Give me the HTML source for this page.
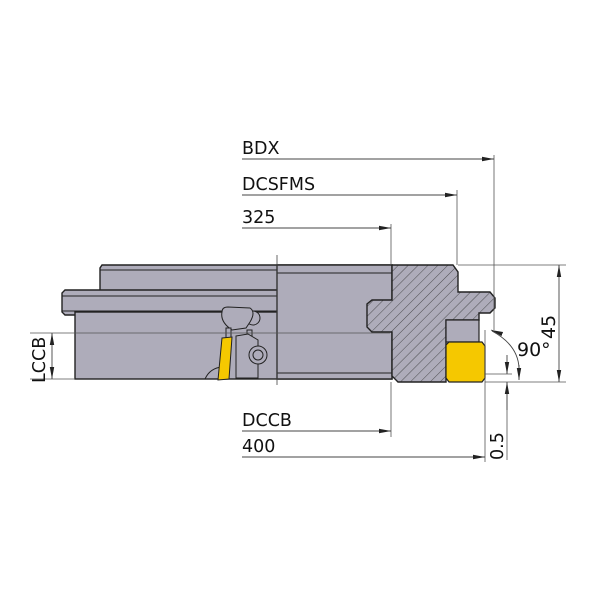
<!DOCTYPE html>
<html><head><style>body{margin:0;background:#fff}svg{display:block}</style></head><body>
<svg width="600" height="600" viewBox="0 0 600 600" xmlns="http://www.w3.org/2000/svg" font-family="'DejaVu Sans','Liberation Sans',sans-serif">
<defs>
<pattern id="h" patternUnits="userSpaceOnUse" width="7" height="7" patternTransform="rotate(45)">
<rect width="7" height="7" fill="#aeacba"/><line x1="0" y1="0" x2="0" y2="7" stroke="#333" stroke-width="0.8"/>
</pattern>
<marker id="a" markerWidth="12" markerHeight="6" refX="12" refY="3" orient="auto" markerUnits="userSpaceOnUse"><path d="M0,0.8 L12,3 L0,5.2 Z" fill="#222"/></marker>
</defs>
<g stroke="#222" stroke-width="1.4" fill="#aeacba">
<path d="M102,265 L392,265 L392,292 L100,292 L100,268 Z"/>
<path d="M65,290 L392,290 L392,315 L65,315 L62,312 L62,293 Z"/>
<rect x="75" y="312" width="317" height="67"/>
<rect x="277" y="265" width="115" height="114"/>
</g>
<g stroke="#222" stroke-width="1" fill="none">
<line x1="100" y1="270" x2="277" y2="270"/>
<line x1="62" y1="296" x2="277" y2="296"/>
<line x1="62" y1="311" x2="277" y2="311"/>
<line x1="277" y1="273" x2="392" y2="273"/>
<line x1="277" y1="373" x2="392" y2="373"/>
</g>
<g stroke="#222" stroke-width="1" fill="#aeacba">
<circle cx="253" cy="318" r="7"/>
<path d="M222,312 Q222,307 228,307 L250,308 Q256,312 250,322 L246,328 L232,330 Q220,322 222,312 Z"/>
<path d="M205,379 Q210,368 222,367"/>
<rect x="226" y="328" width="5" height="12"/>
<rect x="247" y="330" width="5" height="6"/>
<path d="M236,336 L248,334 L258,340 L258,378 L236,378 Z"/>
<circle cx="258" cy="355" r="9"/><circle cx="258" cy="355" r="5"/>
<path d="M222,338 L232,337 L229,379 L218,380 Z" fill="#f5c800"/>
</g>
<line x1="277" y1="255" x2="277" y2="385" stroke="#444" stroke-width="0.8"/>
<path d="M392,265 L453,265 L458,272 L458,292 L490,292 L495,298 L495,308 L490,313 L479,313 L479,320 L446,320 L446,382 L398,382 L392,376 L392,332 L372,332 L367,327 L367,304 L372,300 L392,300 Z" fill="url(#h)" stroke="#222" stroke-width="1.4"/>
<rect x="446" y="320" width="33" height="22" fill="#aeacba" stroke="#222" stroke-width="1.2"/>
<path d="M449,342 L482,342 L485,346 L485,378 L482,382 L449,382 L446,378 L446,345 Z" fill="#f5c800" stroke="#222" stroke-width="1.2"/>
<g stroke="#555" stroke-width="0.8" fill="none">
<line x1="30" y1="333" x2="390" y2="333"/>
<line x1="30" y1="379" x2="75" y2="379"/>
<line x1="494" y1="155" x2="494" y2="330"/>
<line x1="457" y1="190" x2="457" y2="265"/>
<line x1="391" y1="224" x2="391" y2="265"/>
<line x1="391" y1="382" x2="391" y2="437"/>
<line x1="485" y1="330" x2="485" y2="462"/>
<line x1="458" y1="265" x2="566" y2="265"/>
<line x1="485" y1="374" x2="512" y2="374"/>
<line x1="485" y1="382" x2="566" y2="382"/>
<line x1="507" y1="385" x2="507" y2="460"/>
</g>
<g stroke="#444" stroke-width="0.9" fill="none" marker-end="url(#a)">
<line x1="242" y1="159" x2="494" y2="159"/>
<line x1="242" y1="195" x2="457" y2="195"/>
<line x1="242" y1="228" x2="391" y2="228"/>
<line x1="242" y1="431" x2="391" y2="431"/>
<line x1="242" y1="457" x2="485" y2="457"/>
<line x1="559" y1="325" x2="559" y2="265"/>
<line x1="559" y1="325" x2="559" y2="382"/>
<line x1="52" y1="356" x2="52" y2="333"/>
<line x1="52" y1="356" x2="52" y2="379"/>
<line x1="507" y1="355" x2="507" y2="374"/>
<line x1="507" y1="410" x2="507" y2="382"/>
<path d="M519,368 Q518,345 492,331" marker-end="none"/>
<line x1="502" y1="334" x2="491" y2="330"/>
<line x1="519" y1="365" x2="519" y2="380"/>
</g>
<g fill="#111" font-size="17.5">
<text x="242" y="154">BDX</text>
<text x="242" y="190">DCSFMS</text>
<text x="242" y="223">325</text>
<text x="242" y="426">DCCB</text>
<text x="242" y="452">400</text>
<text x="517" y="356" font-size="19">90°</text>
<text transform="translate(555,339) rotate(-90)" font-size="19">45</text>
<text transform="translate(45,383) rotate(-90)">LCCB</text>
<text transform="translate(503,460) rotate(-90)">0.5</text>
</g>
</svg>
</body></html>
